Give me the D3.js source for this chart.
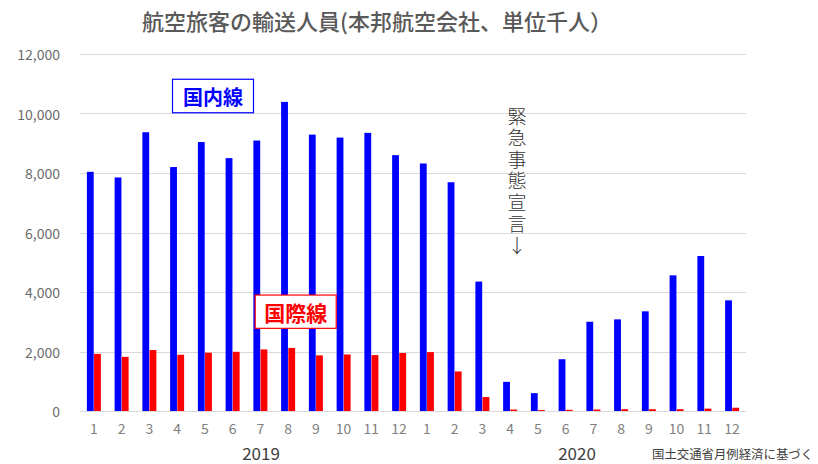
<!DOCTYPE html>
<html><head><meta charset="utf-8">
<script src="https://cdn.jsdelivr.net/npm/d3@7"></script>
<style>
html,body{margin:0;padding:0;background:#fff;}
svg{display:block;font-family:"Noto Sans CJK JP","Noto Sans",sans-serif;}
</style></head>
<body><svg id="c" width="818" height="464"></svg>
<script>
const months = ["1","2","3","4","5","6","7","8","9","10","11","12","1","2","3","4","5","6","7","8","9","10","11","12"];
const years = ["2019","2020"];
const domestic = [8040,7850,9370,8200,9040,8500,9090,10390,9290,9190,9350,8600,8320,7690,4350,980,600,1740,3000,3080,3350,4560,5210,3720];
const international = [1920,1820,2050,1890,1960,1990,2070,2120,1870,1900,1880,1950,1980,1330,470,50,30,40,50,60,60,60,80,110];
const yTicks = [0,2000,4000,6000,8000,10000,12000];
const title = "航空旅客の輸送人員(本邦航空会社、単位千人）";
const labelDomestic = "国内線";
const labelIntl = "国際線";
const annotation = "緊急事態宣言↓";
const source = "国土交通省月例経済に基づく";

const svg = d3.select("#c");
const x = d3.scaleBand().domain(d3.range(months.length)).range([80, 746]).padding(0);
const bw = x.bandwidth();
const x1 = d3.scaleBand().domain(["d","i"]).range([bw/2 - 7, bw/2 + 7]).paddingInner(0.05);
const y = d3.scaleLinear().domain([0, 12000]).range([411, 54]);

// gridlines
svg.append("g").selectAll("line").data(yTicks).join("line")
  .attr("x1", 80).attr("x2", 746)
  .attr("y1", d => Math.round(y(d)) + 0.5).attr("y2", d => Math.round(y(d)) + 0.5)
  .attr("stroke", "#d9d9d9").attr("stroke-width", 1);

// y labels
svg.append("g").selectAll("text").data(yTicks).join("text")
  .attr("x", 60).attr("y", d => y(d))
  .attr("text-anchor", "end").attr("dominant-baseline", "central")
  .attr("font-size", 14).attr("fill", "#6b6b6b")
  .text(d => d3.format(",")(d));

// bars
const g = svg.append("g");
g.selectAll("rect.d").data(domestic).join("rect").attr("class","d")
  .attr("x", (d,i) => x(i) + x1("d")).attr("width", x1.bandwidth())
  .attr("y", d => y(d)).attr("height", d => y(0) - y(d))
  .attr("fill", "#0000ff");
g.selectAll("rect.i").data(international).join("rect").attr("class","i")
  .attr("x", (d,i) => x(i) + x1("i")).attr("width", x1.bandwidth())
  .attr("y", d => y(d)).attr("height", d => y(0) - y(d))
  .attr("fill", "#ff0000");

// month labels
svg.append("g").selectAll("text").data(months).join("text")
  .attr("x", (d,i) => x(i) + bw/2).attr("y", 428)
  .attr("text-anchor", "middle").attr("dominant-baseline", "central")
  .attr("font-size", 14).attr("fill", "#808080")
  .text(d => d);

// year labels
svg.append("g").selectAll("text").data(years).join("text")
  .attr("x", (d,i) => i === 0 ? 261 : 577).attr("y", 452)
  .attr("text-anchor", "middle").attr("dominant-baseline", "central")
  .attr("font-size", 17).attr("fill", "#404040")
  .text(d => d);

// title
svg.append("text").attr("x", 377).attr("y", 20)
  .attr("text-anchor", "middle").attr("dominant-baseline", "central")
  .attr("font-size", 22).attr("font-weight", 500).attr("fill", "#595959")
  .text(title);

// label boxes
function labelBox(cx, cy, w, h, color, txt, fs) {
  svg.append("rect").attr("x", cx - w/2).attr("y", cy - h/2).attr("width", w).attr("height", h)
    .attr("fill", "#fff").attr("stroke", color).attr("stroke-width", 1.2);
  svg.append("text").attr("x", cx).attr("y", cy)
    .attr("text-anchor", "middle").attr("dominant-baseline", "central")
    .attr("font-size", fs).attr("font-weight", "bold").attr("fill", color)
    .text(txt);
}
labelBox(213, 96, 81, 33.5, "#0000ff", labelDomestic, 20);
labelBox(295.7, 311.7, 81, 33.3, "#ff0000", labelIntl, 21);

// vertical annotation
svg.append("text")
  .attr("x", 517).attr("y", 107)
  .style("writing-mode", "vertical-rl")
  .style("text-orientation", "upright")
  .attr("letter-spacing", 2.5)
  .attr("font-size", 19).attr("font-weight", 300).attr("fill", "#333")
  .text(annotation);

// source
svg.append("text").attr("x", 652).attr("y", 454)
  .attr("dominant-baseline", "central")
  .attr("font-size", 12.4).attr("fill", "#404040")
  .text(source);
</script></body></html>
